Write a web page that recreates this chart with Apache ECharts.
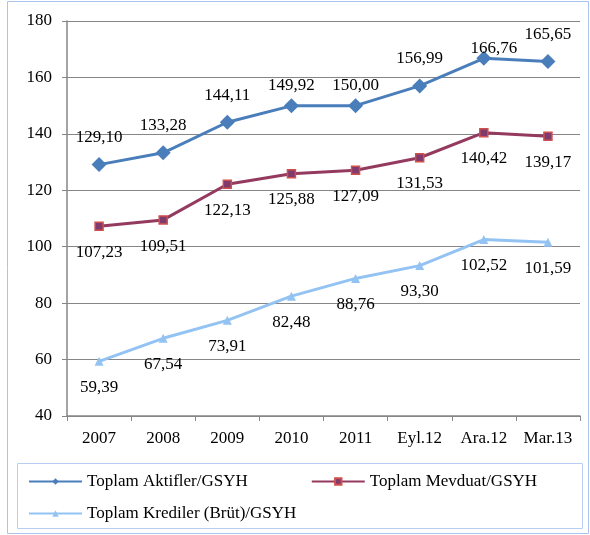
<!DOCTYPE html>
<html>
<head>
<meta charset="utf-8">
<script src="https://cdn.jsdelivr.net/npm/echarts@6/dist/echarts.min.js"></script>
<style>
  html, body { margin: 0; padding: 0; background: #fff; }
  #chart { width: 590px; height: 535px; }
</style>
</head>
<body>
<div id="chart"></div>
<script>
  // kategoriler ve seriler
  var categories = ['2007', '2008', '2009', '2010', '2011', 'Eyl.12', 'Ara.12', 'Mar.13'];
  var aktifler = [129.10, 133.28, 144.11, 149.92, 150.00, 156.99, 166.76, 165.65];
  var mevduat = [107.23, 109.51, 122.13, 125.88, 127.09, 131.53, 140.42, 139.17];
  var krediler = [59.39, 67.54, 73.91, 82.48, 88.76, 93.30, 102.52, 101.59];

  // aktifler etiketlerinin elle kaydirilmis olanlari (piksel)
  var aktiflerLabelShift = { 3: [0, 7], 4: [0, 7], 6: [10, 17] };

  var font = 'Liberation Serif, Times New Roman, serif';
  function fmt(p) { return p.value.toFixed(2).replace('.', ','); }

  var chart = echarts.init(document.getElementById('chart'));
  var option = {
    animation: false,
    textStyle: { fontFamily: font },
    graphic: [
      { type: 'rect', shape: { x: 7.5, y: 1.5, width: 581, height: 532 },
        style: { fill: 'none', stroke: '#a9c4ef', lineWidth: 1 } },
      { type: 'rect', shape: { x: 17.5, y: 463.5, width: 565, height: 65 },
        style: { fill: 'none', stroke: '#b8cdf2', lineWidth: 1 } }
    ],
    grid: { left: 67, right: 10, top: 21, bottom: 119 },
    legend: [
      {
        data: ['Toplam Aktifler/GSYH', 'Toplam Mevduat/GSYH'],
        left: 28, top: 473, padding: 0, itemWidth: 53, itemHeight: 8, itemGap: 63,
        textStyle: { fontFamily: font, fontSize: 17, color: '#000' }
      },
      {
        data: ['Toplam Krediler (Brüt)/GSYH'],
        left: 28, top: 505, padding: 0, itemWidth: 53, itemHeight: 8,
        textStyle: { fontFamily: font, fontSize: 17, color: '#000' }
      }
    ],
    xAxis: {
      type: 'category',
      data: categories,
      boundaryGap: true,
      axisLine: { lineStyle: { color: '#868686', width: 1.5 } },
      axisTick: { show: true, length: 5, lineStyle: { color: '#868686' } },
      axisLabel: { color: '#000', fontSize: 17, fontFamily: font, margin: 14 }
    },
    yAxis: {
      type: 'value',
      min: 40, max: 180, interval: 20,
      axisLine: { show: true, lineStyle: { color: '#868686', width: 1.5 } },
      axisTick: { show: true, length: 5, lineStyle: { color: '#868686' } },
      splitLine: { lineStyle: { color: '#868686', width: 1.2 } },
      axisLabel: { color: '#000', fontSize: 17, fontFamily: font, margin: 15 }
    },
    series: [
      {
        name: 'Toplam Aktifler/GSYH',
        type: 'line',
        data: aktifler.map(function (v, i) {
          var s = aktiflerLabelShift[i];
          return s ? { value: v, label: { offset: s } } : v;
        }),
        color: '#4a7ebb',
        symbol: 'diamond', symbolSize: 15,
        lineStyle: { width: 3, color: '#4a7ebb' },
        itemStyle: { color: '#4a7ebb' },
        label: { show: true, position: 'top', distance: 11, formatter: fmt,
          color: '#000', fontSize: 17, fontFamily: font }
      },
      {
        name: 'Toplam Mevduat/GSYH',
        type: 'line',
        data: mevduat,
        color: '#953a5f',
        symbol: 'rect', symbolSize: 8,
        lineStyle: { width: 3, color: '#953a5f' },
        itemStyle: { color: '#7f3a6e', borderColor: '#d0504d', borderWidth: 1.5 },
        label: { show: true, position: 'bottom', distance: 13, formatter: fmt,
          color: '#000', fontSize: 17, fontFamily: font }
      },
      {
        name: 'Toplam Krediler (Brüt)/GSYH',
        type: 'line',
        data: krediler,
        color: '#93c3f3',
        symbol: 'triangle', symbolSize: 9,
        lineStyle: { width: 3, color: '#93c3f3' },
        itemStyle: { color: '#93c3f3' },
        label: { show: true, position: 'bottom', distance: 13, formatter: fmt,
          color: '#000', fontSize: 17, fontFamily: font }
      }
    ]
  };
  chart.setOption(option);
</script>
</body>
</html>
